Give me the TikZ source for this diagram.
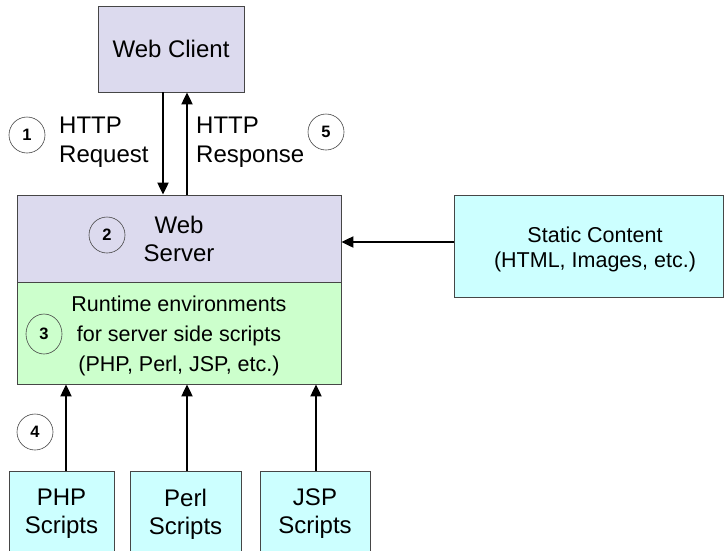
\documentclass[tikz,border=0pt]{standalone}
\usepackage{fontspec}
\setmainfont{Liberation Sans}
\usetikzlibrary{arrows.meta,shapes.geometric}
\definecolor{lav}{RGB}{220,218,238}
\definecolor{lgreen}{RGB}{204,255,204}
\definecolor{lcyan}{RGB}{204,255,255}
\definecolor{bord}{RGB}{70,70,70}
\tikzset{
  box/.style={draw=bord, line width=0.8pt, align=center, inner sep=0pt},
  big/.style={font=\fontsize{24}{28}\selectfont},
  mid/.style={font=\fontsize{21.5}{30}\selectfont},
  num/.style={draw=bord, line width=0.6pt, ellipse, minimum width=36pt, minimum height=36pt, inner sep=0pt, font=\fontsize{16.5}{18}\selectfont\bfseries},
  arr/.style={line width=2pt, -{Triangle[length=12pt,width=11pt]}},
  lbl/.style={font=\fontsize{24}{29}\selectfont, align=left, inner sep=0pt, anchor=west},
  script/.style={box, fill=lcyan, minimum height=86pt, font=\fontsize{24}{28}\selectfont}
}
\begin{document}
\begin{tikzpicture}[x=1pt,y=-1pt]
\useasboundingbox[fill=white] (0,0) rectangle (725,550);
\node[box, big, fill=lav, minimum width=146pt, minimum height=86pt] (client) at (171,49) {Web Client};
\node[box, big, fill=lav, minimum width=324pt, minimum height=87pt] (server) at (179,238.5) {Web\\Server};
\node[box, fill=lgreen, minimum width=324pt, minimum height=102pt] (rt) at (179,333) {};
\node[mid, align=center, inner sep=0pt] (rttext) at (179,336) {Runtime environments\\for server side scripts\\(PHP, Perl, JSP, etc.)};
\node[box, fill=lcyan, minimum width=269pt, minimum height=102pt] (static) at (588.5,246) {};
\node[align=center, inner sep=0pt, font=\fontsize{21.5}{25}\selectfont] (stext) at (595,249) {Static Content\\(HTML, Images, etc.)};
\node[script, minimum width=105pt] (php) at (61.5,514) {PHP\\Scripts};
\node[script, minimum width=111pt] (perl) at (185.5,514) {Perl\\Scripts};
\node[script, minimum width=110pt] (jsp) at (315,514) {JSP\\Scripts};
% arrows
\draw[arr] ([xshift=-8pt]client.south) -- ([xshift=-8pt]client.south |- server.north);
\draw[arr] ([xshift=16pt]client.south |- server.north) -- ([xshift=16pt]client.south);
\draw[arr] ([yshift=4pt]static.west) -- ([yshift=4pt]static.west -| server.east);
\draw[arr] ([xshift=4.5pt]php.north) -- ([xshift=4.5pt]php.north |- rt.south);
\draw[arr] ([xshift=1.5pt]perl.north) -- ([xshift=1.5pt]perl.north |- rt.south);
\draw[arr] ([xshift=1pt]jsp.north) -- ([xshift=1pt]jsp.north |- rt.south);
% labels
\node[lbl] (req) at (59,142) {HTTP\\Request};
\node[lbl] (resp) at (196,142) {HTTP\\Response};
% numbers
\node[num] (n1) at (27,135) {1};
\node[num] (n5) at (326,132) {5};
\node[num] (n2) at (107,235) {2};
\node[num, minimum height=40pt] (n3) at (44,334) {3};
\node[num] (n4) at (35,432) {4};
\end{tikzpicture}
\end{document}
